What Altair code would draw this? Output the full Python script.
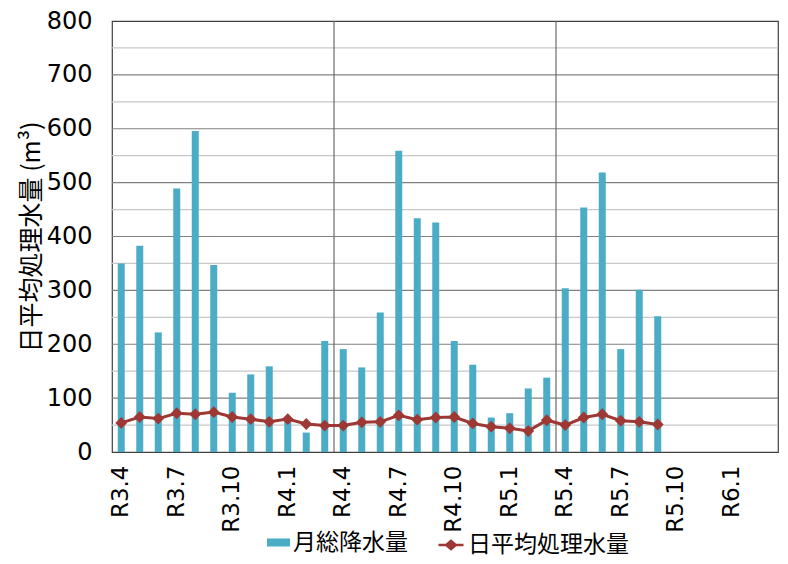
import altair as alt
import pandas as pd

months = ["R3.4", "R3.5", "R3.6", "R3.7", "R3.8", "R3.9", "R3.10", "R3.11", "R3.12",
          "R4.1", "R4.2", "R4.3", "R4.4", "R4.5", "R4.6", "R4.7", "R4.8", "R4.9",
          "R4.10", "R4.11", "R4.12", "R5.1", "R5.2", "R5.3", "R5.4", "R5.5", "R5.6",
          "R5.7", "R5.8", "R5.9", "R5.10", "R5.11", "R5.12", "R6.1", "R6.2", "R6.3"]

rain = [350, 383, 222, 489, 596, 347, 110, 144, 159,
        63, 36, 206, 191, 157, 259, 559, 434, 426, 206, 162, 64,
        72, 118, 138, 304, 454, 519, 191, 301, 252]

treat = [54, 65, 62, 72, 70, 74, 65, 61, 56,
         61, 52, 49, 49, 55, 56, 68, 60, 64, 65, 53, 47,
         44, 39, 59, 50, 64, 70, 58, 56, 51]

tick_labels = ["R3.4", "R3.7", "R3.10", "R4.1", "R4.4", "R4.7", "R4.10",
               "R5.1", "R5.4", "R5.7", "R5.10", "R6.1"]
year_lines = ["R4.4", "R5.4"]
y_ticks = list(range(0, 801, 100))
grid_major = [100, 200, 300, 400, 500, 600, 700]
grid_minor = [50, 150, 250, 350, 450, 550, 650, 750]

BLUE = "#4bacc6"
RED = "#9e3835"

n = len(rain)
df = pd.DataFrame({
    "month": months[:n],
    "rain": rain,
    "treat": treat,
    "s1": ["月総降水量"] * n,
    "s2": ["日平均処理水量"] * n,
})

xscale = alt.Scale(domain=months, paddingInner=0, paddingOuter=0)
yscale = alt.Scale(domain=[0, 800], nice=False)

x_axis = alt.Axis(values=tick_labels, labelAngle=-90, ticks=False, domain=False,
                  labelPadding=13, labelFont="DejaVu Sans", labelFontSize=23,
                  labelColor="#000000", grid=False, title=None)
y_axis = alt.Axis(values=y_ticks, ticks=False, domain=False, grid=False,
                  labelPadding=20, labelFont="DejaVu Sans", labelFontSize=24,
                  labelColor="#000000",
                  title="日平均処理水量 (m³)",
                  titleFont="Noto Sans CJK JP", titleFontSize=25, titleFontWeight="normal",
                  titleColor="#000000", titlePadding=2)

X = alt.X("month:N", scale=xscale, axis=x_axis)

minor = alt.Chart(pd.DataFrame({"v": grid_minor})).mark_rule(
    color="#c8c8c8", strokeWidth=1.2
).encode(y=alt.Y("v:Q", scale=yscale, axis=y_axis))

major = alt.Chart(pd.DataFrame({"v": grid_major})).mark_rule(
    color="#808080", strokeWidth=1.2
).encode(y=alt.Y("v:Q", scale=yscale, axis=y_axis))

vlines = alt.Chart(pd.DataFrame({"month": year_lines})).mark_rule(
    color="#6b6b6b", strokeWidth=1.2
).encode(x=alt.X("month:N", scale=xscale, bandPosition=0, axis=x_axis))

bars = alt.Chart(df).mark_bar(size=7).encode(
    x=X,
    y=alt.Y("rain:Q", scale=yscale, axis=y_axis),
    color=alt.Color("s1:N", scale=alt.Scale(range=[BLUE]), title=None,
                    legend=alt.Legend(orient="none", legendX=155, legendY=510,
                                      symbolType="M-1,-0.35H1V0.35H-1Z", symbolSize=529,
                                      symbolStrokeWidth=0, labelOffset=3)),
)

line = alt.Chart(df).mark_line(
    strokeWidth=3,
    point=alt.OverlayMarkDef(shape="diamond", size=140, filled=True, opacity=1),
).encode(
    x=X,
    y=alt.Y("treat:Q", scale=yscale, axis=y_axis),
    color=alt.Color("s2:N", scale=alt.Scale(range=[RED]), title=None,
                    legend=alt.Legend(orient="none", legendX=325, legendY=510,
                                      symbolType="M-1,0H1M-0.38,0L0,-0.32L0.38,0L0,0.32Z",
                                      symbolSize=625, symbolStrokeWidth=2.5,
                                      labelOffset=3)),
)

chart = alt.layer(minor, major, vlines, bars, line).resolve_scale(color="independent").properties(
    width=666, height=431,
    autosize=alt.AutoSizeParams(type="none"),
    padding={"left": 104, "top": 13, "right": 2, "bottom": 104},
).configure_view(
    stroke="#404040", strokeWidth=1.2
).configure_legend(
    labelFont="Noto Sans CJK JP", labelFontSize=23, labelColor="#000000", labelLimit=400,
    padding=0,
)

chart.save("out.html", embed_options={"renderer": "svg", "actions": False})
